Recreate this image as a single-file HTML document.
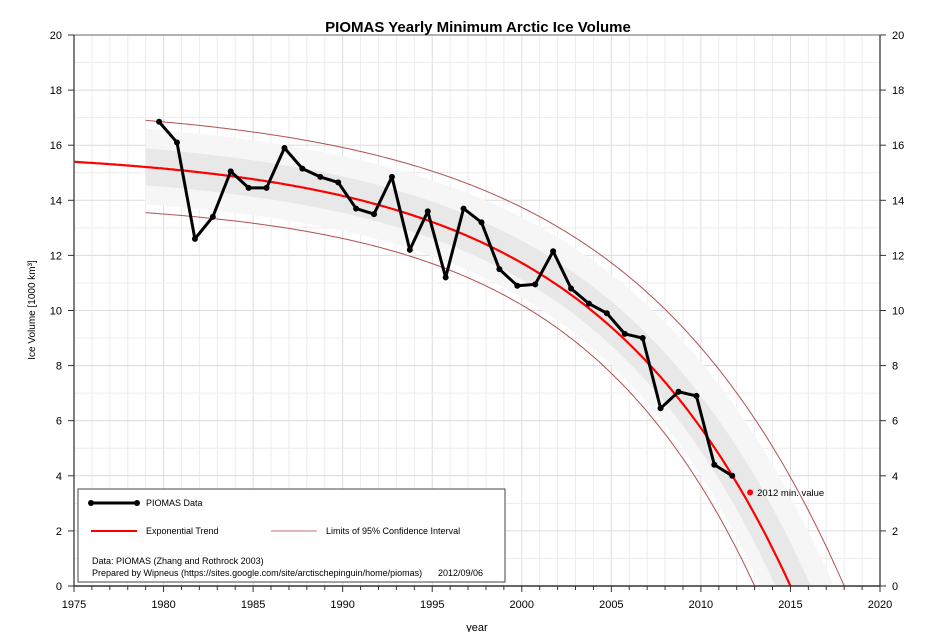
<!DOCTYPE html>
<html><head><meta charset="utf-8"><style>
body{margin:0;background:#fff;font-family:"Liberation Sans",sans-serif;overflow:hidden}
svg{display:block}
svg text{font-family:"Liberation Sans",sans-serif}
</style></head><body>
<svg id="chart" width="933" height="632" xmlns="http://www.w3.org/2000/svg"></svg>
<script>
const years=[1979,1980,1981,1982,1983,1984,1985,1986,1987,1988,1989,1990,1991,1992,1993,1994,1995,1996,1997,1998,1999,2000,2001,2002,2003,2004,2005,2006,2007,2008,2009,2010,2011];
const volumes=[16.85,16.1,12.6,13.4,15.05,14.45,14.45,15.9,15.15,14.85,14.65,13.7,13.5,14.85,12.2,13.6,11.2,13.7,13.2,11.5,10.9,10.95,12.15,10.8,10.25,9.9,9.15,9.0,6.45,7.05,6.9,4.4,4.0];
const minYear=[2012];
const minValue=[3.4];
const trendParams=[15.83,0.4326,0.09];
const upperParams=[17.54,0.4536,0.085];
const lowerParams=[14.02,0.3136,0.1];
const xTicks=[1975,1980,1985,1990,1995,2000,2005,2010,2015,2020];
const yTicks=[0,2,4,6,8,10,12,14,16,18,20];

const NS="http://www.w3.org/2000/svg";
const svg=document.getElementById('chart');
const L=74,R=880,T=35,B=586;
const X=v=>L+(v-1975)/45*(R-L);
const Y=v=>B-v/20*(B-T);
function el(tag,attrs,parent){const e=document.createElementNS(NS,tag);for(const k in attrs)e.setAttribute(k,attrs[k]);(parent||svg).appendChild(e);return e;}
const f=(p,t)=>p[0]-p[1]*Math.exp(p[2]*(t-1975));

const grid=el('g',{});


for(let yr=1976;yr<2020;yr++){el('line',{x1:X(yr),x2:X(yr),y1:T,y2:B,stroke:yr%5==0?'#dcdcdc':'#ececec','stroke-width':1},grid);}
for(let v=1;v<20;v++){el('line',{x1:L,x2:R,y1:Y(v),y2:Y(v),stroke:v%2==0?'#dcdcdc':'#ececec','stroke-width':1},grid);}

function bandPath(fr){let up=[],lo=[];for(let t=1979;t<=2020;t+=0.25){const m=f(trendParams,t),u=f(upperParams,t),l=f(lowerParams,t);up.push([X(t),Y(m+(u-m)*fr)]);lo.push([X(t),Y(m-(m-l)*fr)]);}
 return 'M'+up.map(p=>p.join(',')).join('L')+'L'+lo.reverse().map(p=>p.join(',')).join('L')+'Z';}
const clip=el('clipPath',{id:'pc'});el('rect',{x:L,y:T,width:R-L,height:B-T},clip);
const outer=el('path',{d:bandPath(0.82),fill:'#f6f6f6','clip-path':'url(#pc)'});


const inner=el('path',{d:bandPath(0.4),fill:'#e8e8e8','clip-path':'url(#pc)'});



function curve(p,t0){let pts=[];for(let t=t0;t<=2020;t+=0.1)pts.push(X(t).toFixed(1)+','+Y(f(p,t)).toFixed(1));return 'M'+pts.join('L');}
const up=el('path',{d:curve(upperParams,1979),fill:'none',stroke:'#b05050','stroke-width':1,'clip-path':'url(#pc)'});


const lo=el('path',{d:curve(lowerParams,1979),fill:'none',stroke:'#b05050','stroke-width':1,'clip-path':'url(#pc)'});


const tr=el('path',{d:curve(trendParams,1975),fill:'none',stroke:'#ff0000','stroke-width':2.2,'clip-path':'url(#pc)'});



const line=el('polyline',{points:years.map((y,i)=>X(y+0.75)+','+Y(volumes[i])).join(' '),fill:'none',stroke:'#000','stroke-width':3,'stroke-linejoin':'round'});


years.forEach((y,i)=>{const c=el('circle',{cx:X(y+0.75),cy:Y(volumes[i]),r:3,fill:'#000'});
 
 });
const mp=el('circle',{cx:X(minYear[0]+0.75),cy:Y(minValue[0]),r:3,fill:'#ff0000'});


const mt=el('text',{x:X(minYear[0]+0.75)+7,y:Y(minValue[0])+3.5,'font-size':9.5,fill:'#000'});mt.textContent='2012 min. value';



el('line',{x1:L,x2:R,y1:T,y2:T,stroke:'#999','stroke-width':1.5});
el('line',{x1:L,x2:L,y1:T,y2:B,stroke:'#555','stroke-width':1.5});
el('line',{x1:R,x2:R,y1:T,y2:B,stroke:'#555','stroke-width':1.5});
el('line',{x1:L,x2:R,y1:B,y2:B,stroke:'#333','stroke-width':1.5});
for(let yr=1975;yr<=2020;yr++){el('line',{x1:X(yr),x2:X(yr),y1:B,y2:B+(yr%5==0?6:4),stroke:'#333'});}
xTicks.forEach(v=>{const t=el('text',{x:X(v),y:B+22,'font-size':11,'text-anchor':'middle'});t.textContent=v;
 
 });
yTicks.forEach(v=>{el('line',{x1:L-6,x2:L,y1:Y(v),y2:Y(v),stroke:'#333'});el('line',{x1:R,x2:R+6,y1:Y(v),y2:Y(v),stroke:'#333'});
 const t=el('text',{x:L-12,y:Y(v)+4,'font-size':11,'text-anchor':'end'});t.textContent=v;
 
 
 const t2=el('text',{x:R+12,y:Y(v)+4,'font-size':11,'text-anchor':'start'});t2.textContent=v;
 
 });

const title=el('text',{x:478,y:32,'font-size':15,'font-weight':'bold','text-anchor':'middle'});title.textContent='PIOMAS Yearly Minimum Arctic Ice Volume';


const yl=el('text',{x:0,y:0,'font-size':10,'text-anchor':'middle',transform:'translate(35,310) rotate(-90)'});yl.textContent='Ice Volume [1000 km³]';


const xl=el('text',{x:477,y:631,'font-size':11,'text-anchor':'middle'});xl.textContent='year';



const lg=el('g',{});


el('rect',{x:78,y:489,width:427,height:93,fill:'#fff',stroke:'#444','stroke-width':1},lg);
el('line',{x1:91,x2:137,y1:503,y2:503,stroke:'#000','stroke-width':3},lg);
el('circle',{cx:91,cy:503,r:3},lg);el('circle',{cx:137,cy:503,r:3},lg);
el('line',{x1:91,x2:137,y1:531,y2:531,stroke:'#ff0000','stroke-width':2},lg);
el('line',{x1:271,x2:317,y1:531,y2:531,stroke:'#c07070','stroke-width':1},lg);
[['PIOMAS Data',146,506,'legend-data'],['Exponential Trend',146,534,'legend-trend'],['Limits of 95% Confidence Interval',326,534,'legend-confidence'],['Data: PIOMAS (Zhang and Rothrock 2003)',92,564,'source-note'],['Prepared by Wipneus (https://sites.google.com/site/arctischepinguin/home/piomas)',92,576,'author-note'],['2012/09/06',438,576,'date-note']].forEach(a=>{
 const t=el('text',{x:a[1],y:a[2],'font-size':9},lg);t.textContent=a[0];
 
 });
</script>
</body></html>
